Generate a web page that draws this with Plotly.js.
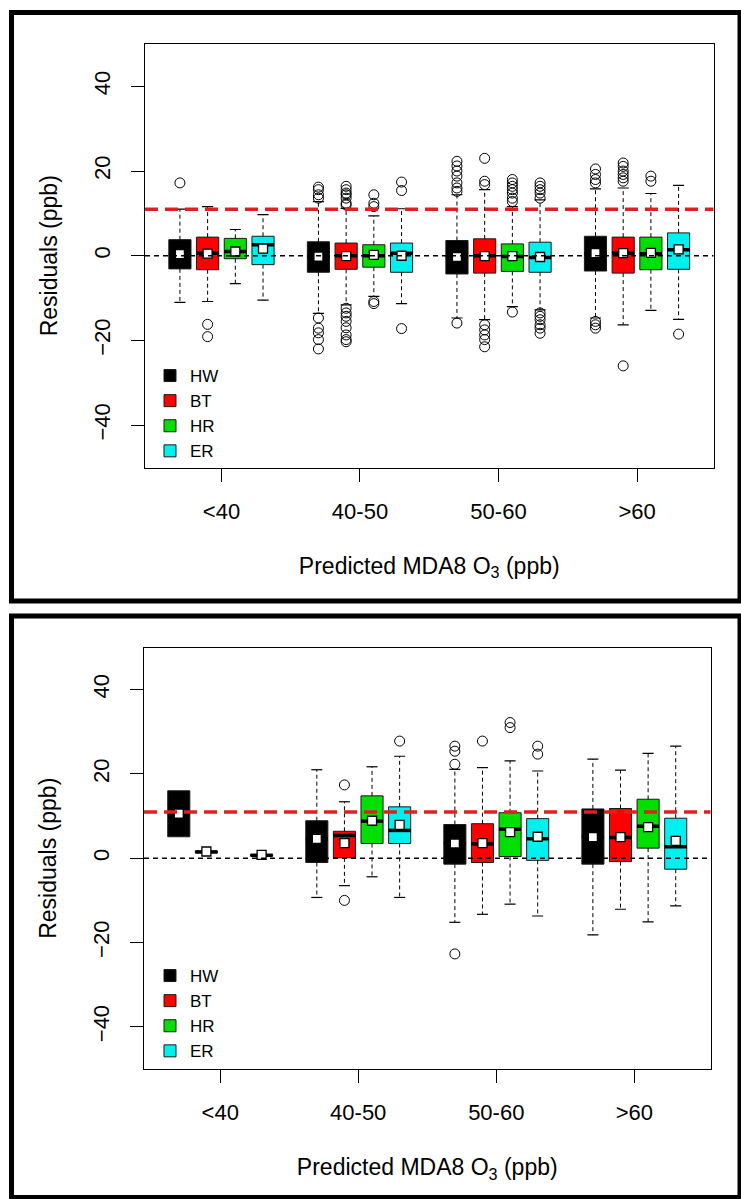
<!DOCTYPE html>
<html>
<head>
<meta charset="utf-8">
<script src="https://cdn.plot.ly/plotly-3.0.1.min.js"></script>
<style>html,body{margin:0;padding:0;background:#fff;}#chart{width:741px;height:1199px;}</style>
</head>
<body>
<div id="chart"></div>
<script>
// ---------------- data ----------------
const categories = ['<40', '40-50', '50-60', '>60'];
const seriesNames = ['HW', 'BT', 'HR', 'ER'];
const thresholdLevel = 11;   // red dashed reference line (ppb)
const zeroLevel = 0;         // black dashed reference line

// Top panel: rows = HW, BT, HR, ER ; columns = categories
const topQ1     = [[-3.1, -3.9, -4.3, -3.6], [-3.3, -3.2, -4.1, -4.1], [-0.7, -2.7, -3.7, -3.3], [-2.1, -3.9, -3.9, -3.2]];
const topMedian = [[0.3, -0.2, -0.3, 0.5],   [0.6, 0.0, 0.0, 0.6],     [1.0, 0.0, -0.2, 0.5],    [2.6, 0.6, -0.4, 1.4]];
const topQ3     = [[3.8, 3.3, 3.6, 4.6],     [4.4, 3.0, 4.0, 4.4],     [4.1, 2.6, 2.8, 4.4],     [4.6, 3.0, 3.2, 5.4]];
const topLower  = [[-11.0, -13.6, -14.7, -14.7], [-10.8, -11.6, -15.1, -16.3], [-6.6, -9.6, -12.0, -12.9], [-10.5, -11.3, -12.8, -15.0]];
const topUpper  = [[11.0, 12.8, 14.4, 15.8], [11.6, 11.2, 15.6, 16.0], [6.2, 9.4, 11.6, 14.7],   [9.7, 11.1, 13.2, 16.6]];
const topMean   = [[0.4, -0.2, -0.3, 0.6],   [0.5, -0.1, -0.1, 0.6],   [1.0, 0.2, -0.1, 0.7],    [1.7, 0.0, -0.3, 1.5]];
const topOutliers = [
  [[17.2], [16.2, 15.6, 14.4, 13.6, -14.7, -17.1, -18.2, -19.8, -22.0], [22.3, 21.2, 20.0, 18.8, 17.2, 16.0, 15.2, -15.9], [20.5, 19.2, 18.0, 17.2, -15.5, -16.3, -17.1]],
  [[-16.2, -19.1], [16.4, 15.6, 14.8, 14.4, 13.6, 12.4, 12.0, -12.4, -13.5, -14.3, -15.5, -17.0, -18.7, -19.8, -20.3], [23.0, 17.6, 16.8, -16.3, -17.5, -18.7, -19.8, -21.5], [21.9, 21.1, 20.0, 19.2, 18.4, 17.6, -26.0]],
  [[], [14.4, 12.4, 11.6, -10.8, -11.3], [18.0, 17.2, 16.4, 15.6, 14.8, 13.6, 12.8, -13.3], [18.8, 17.6]],
  [[], [17.4, 15.4, -17.2], [17.2, 16.4, 15.6, 14.8, 13.6, -13.5, -14.3, -15.1, -16.3, -17.1, -18.3], [-18.5]]
];

// Bottom panel (null = no data for that category)
const botQ1     = [[5.1, -1.0, -1.4, -1.4],  [1.3, 0.1, -1.0, -0.8],   [null, 3.5, 0.4, 2.4],    [0.5, 3.5, -0.5, -2.6]];
const botMedian = [[10.7, 4.6, 3.5, 5.1],    [1.5, 5.4, 3.4, 4.9],     [null, 8.8, 6.9, 7.6],    [0.7, 6.6, 4.6, 2.7]];
const botQ3     = [[16.0, 8.9, 8.0, 11.7],   [1.7, 6.4, 8.2, 11.8],    [null, 14.8, 10.8, 14.0], [0.9, 12.2, 9.4, 9.5]];
const botLower  = [[5.1, -9.3, -15.2, -18.2], [1.3, -6.5, -13.3, -12.1], [null, -4.4, -10.9, -15.1], [0.5, -9.3, -13.7, -11.3]];
const botUpper  = [[16.0, 21.0, 21.1, 23.5], [1.7, 13.4, 21.5, 20.9],  [null, 21.7, 23.1, 24.9], [0.9, 24.2, 20.7, 26.6]];
const botMean   = [[10.6, 4.6, 3.5, 5.0],    [1.6, 3.6, 3.6, 5.0],     [null, 8.9, 6.2, 7.4],    [0.8, 7.9, 5.1, 4.1]];
const botOutliers = [
  [[], [], [26.6, 25.4, 22.3, -22.7], []],
  [[], [17.4, -10.0], [27.8], []],
  [[], [], [32.2, 31.0], []],
  [[], [27.8], [26.6, 24.7], []]
];

// ---------------- style ----------------
const seriesColors = ['#000000', '#FF0000', '#00E000', '#00F0F0'];
const FONT = 'Liberation Sans, Arial, sans-serif';
const W = 741, H = 1199;
const boxWidth = 0.8, capWidth = 0.4;

function panel(st, xa, ya, legendId) {
  const traces = [];
  const wx = [], wy = [], cx = [], cy = [], mx = [], my = [], ax = [], ay = [], ox = [], oy = [];
  seriesNames.forEach((name, s) => {
    const xs = [], q1 = [], md = [], q3 = [];
    categories.forEach((c, g) => {
      if (st.q1[s][g] === null) return;
      const x = g * 5 + s + 1;
      const a = st.q1[s][g], m = st.med[s][g], b = st.q3[s][g], lo = st.lo[s][g], hi = st.hi[s][g];
      xs.push(x); q1.push(a); md.push(m); q3.push(b);
      if (hi > b) {
        wx.push(x, x, null); wy.push(b, hi, null);
        cx.push(x - capWidth / 2, x + capWidth / 2, null); cy.push(hi, hi, null);
      }
      if (lo < a) {
        wx.push(x, x, null); wy.push(a, lo, null);
        cx.push(x - capWidth / 2, x + capWidth / 2, null); cy.push(lo, lo, null);
      }
      mx.push(x - boxWidth / 2, x + boxWidth / 2, null); my.push(m, m, null);
      ax.push(x); ay.push(st.mean[s][g]);
      st.out[s][g].forEach(v => { ox.push(x); oy.push(v); });
    });
    traces.push({
      type: 'box', name: name, x: xs, q1: q1, median: md, q3: q3,
      lowerfence: q1, upperfence: q3, width: boxWidth, whiskerwidth: 0,
      boxpoints: false, fillcolor: seriesColors[s],
      line: {color: '#1a1a1a', width: 1},
      xaxis: xa, yaxis: ya, legend: legendId, showlegend: true, hoverinfo: 'skip'
    });
  });
  const common = {type: 'scatter', xaxis: xa, yaxis: ya, showlegend: false, hoverinfo: 'skip'};
  traces.push(Object.assign({}, common, {x: wx, y: wy, mode: 'lines', line: {color: '#000', width: 1, dash: '4px,3px'}}));
  traces.push(Object.assign({}, common, {x: cx, y: cy, mode: 'lines', line: {color: '#000', width: 1.2}}));
  traces.push(Object.assign({}, common, {x: mx, y: my, mode: 'lines', line: {color: '#000', width: 3.5}}));
  traces.push(Object.assign({}, common, {x: ax, y: ay, mode: 'markers', marker: {symbol: 'square', size: 9, color: '#fff', line: {color: '#000', width: 1.3}}}));
  traces.push(Object.assign({}, common, {x: ox, y: oy, mode: 'markers', marker: {symbol: 'circle-open', size: 10, color: '#000', line: {color: '#000', width: 1}}}));
  return traces;
}

const data = [].concat(
  panel({q1: topQ1, med: topMedian, q3: topQ3, lo: topLower, hi: topUpper, mean: topMean, out: topOutliers}, 'x', 'y', 'legend'),
  panel({q1: botQ1, med: botMedian, q3: botQ3, lo: botLower, hi: botUpper, mean: botMean, out: botOutliers}, 'x2', 'y2', 'legend2')
);

const tickPos = categories.map((c, g) => g * 5 + 2.5);
function xAxis(domain, anchor) {
  return {
    domain: domain, anchor: anchor, range: [-0.26, 20.26],
    tickmode: 'array', tickvals: tickPos, ticktext: categories,
    ticks: 'outside', ticklen: 13, tickwidth: 1, tickcolor: '#000',
    ticklabelstandoff: 11,
    showline: true, mirror: true, linecolor: '#000', linewidth: 1,
    showgrid: false, zeroline: false,
    tickfont: {family: FONT, size: 22, color: '#000'},
    title: {text: 'Predicted MDA8 O<sub>3</sub> (ppb)', font: {family: FONT, size: 23, color: '#000'}, standoff: 34}
  };
}
function yAxis(domain, anchor) {
  return {
    domain: domain, anchor: anchor, range: [-50, 50],
    tickmode: 'array', tickvals: [-40, -20, 0, 20, 40],
    tickangle: -90, ticks: 'outside', ticklen: 13, tickwidth: 1, tickcolor: '#000',
    ticklabelstandoff: 12,
    showline: true, mirror: true, linecolor: '#000', linewidth: 1,
    showgrid: false, zeroline: false,
    tickfont: {family: FONT, size: 22, color: '#000'},
    title: {text: 'Residuals (ppb)', font: {family: FONT, size: 23, color: '#000'}, standoff: 26}
  };
}
function refLines(xa, ya) {
  return [
    {type: 'line', xref: xa + ' domain', yref: ya, x0: 0, x1: 1, y0: zeroLevel, y1: zeroLevel, layer: 'above',
     line: {color: '#000', width: 1.5, dash: '5px,4px'}},
    {type: 'line', xref: xa + ' domain', yref: ya, x0: 0, x1: 1, y0: thresholdLevel, y1: thresholdLevel, layer: 'above',
     line: {color: '#E0201E', width: 3.5, dash: '13px,7px'}}
  ];
}
function legendBox(topPx) {
  return {x: 150 / W, xanchor: 'left', y: 1 - topPx / H, yanchor: 'top',
          bgcolor: 'rgba(0,0,0,0)', borderwidth: 0, tracegroupgap: 0,
          font: {family: FONT, size: 17, color: '#000'}};
}

const layout = {
  width: W, height: H, margin: {l: 0, r: 0, t: 0, b: 0},
  paper_bgcolor: '#fff', plot_bgcolor: '#fff', boxmode: 'overlay',
  font: {family: FONT, color: '#000'},
  xaxis: xAxis([145 / W, 713.5 / W], 'y'),
  yaxis: yAxis([1 - 467.5 / H, 1 - 44 / H], 'x'),
  xaxis2: xAxis([144 / W, 710.5 / W], 'y2'),
  yaxis2: yAxis([1 - 1069 / H, 1 - 647.5 / H], 'x2'),
  legend: legendBox(358),
  legend2: legendBox(958),
  shapes: [].concat(
    refLines('x', 'y'), refLines('x2', 'y2'),
    [{type: 'rect', xref: 'paper', yref: 'paper', x0: 11.5 / W, x1: 740 / W, y0: 1 - 601 / H, y1: 1 - 12.5 / H, line: {color: '#000', width: 5}},
     {type: 'rect', xref: 'paper', yref: 'paper', x0: 11.5 / W, x1: 740 / W, y0: 1 - 1197.5 / H, y1: 1 - 616 / H, line: {color: '#000', width: 5}}]
  )
};

Plotly.newPlot('chart', data, layout, {staticPlot: true, displayModeBar: false});
</script>
</body>
</html>
